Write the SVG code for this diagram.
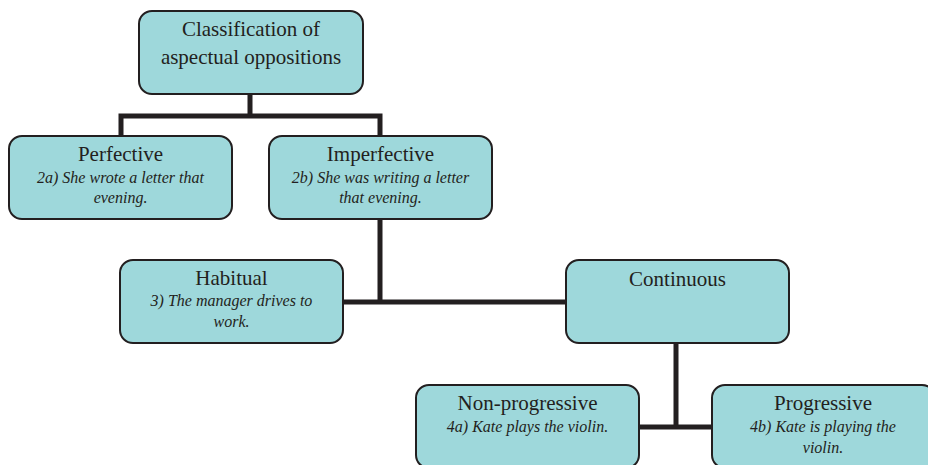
<svg xmlns="http://www.w3.org/2000/svg" width="928" height="465" viewBox="0 0 928 465">
<defs>
<rect id="boxshape" width="223" height="83" rx="13" fill="#9ED8DB" stroke="#231F20" stroke-width="2"/>
</defs>
<rect width="928" height="465" fill="#ffffff"/>
<g id="connectors" fill="none" stroke="#231F20" stroke-width="5">
<path d="M250 94 V116 M121 136 V116 H380 V136"/>
<path d="M380 219 V302 M343 302 H566"/>
<path d="M676 343 V427 M638 427 H712"/>
</g>
<g id="root">
<rect x="139" y="11" width="224" height="83" rx="13" fill="#9ED8DB" stroke="#231F20" stroke-width="2"/>
<text x="251" y="36" font-family="Liberation Serif" font-size="21" fill="#231F20" text-anchor="middle">Classification of</text>
<text x="251" y="64" font-family="Liberation Serif" font-size="21" fill="#231F20" text-anchor="middle">aspectual oppositions</text>
</g>
<g id="perfective">
<use href="#boxshape" x="9" y="136"/>
<text x="120.5" y="161" font-family="Liberation Serif" font-size="21" fill="#231F20" text-anchor="middle">Perfective</text>
<text x="120.5" y="183" font-family="Liberation Serif" font-size="16" font-style="italic" fill="#231F20" text-anchor="middle">2a) She wrote a letter that</text>
<text x="120.5" y="203" font-family="Liberation Serif" font-size="16" font-style="italic" fill="#231F20" text-anchor="middle">evening.</text>
</g>
<g id="imperfective">
<use href="#boxshape" x="269" y="136"/>
<text x="380.5" y="161" font-family="Liberation Serif" font-size="21" fill="#231F20" text-anchor="middle">Imperfective</text>
<text x="380.5" y="183" font-family="Liberation Serif" font-size="16" font-style="italic" fill="#231F20" text-anchor="middle">2b) She was writing a letter</text>
<text x="380.5" y="203" font-family="Liberation Serif" font-size="16" font-style="italic" fill="#231F20" text-anchor="middle">that evening.</text>
</g>
<g id="habitual">
<use href="#boxshape" x="120" y="260"/>
<text x="231.5" y="285" font-family="Liberation Serif" font-size="21" fill="#231F20" text-anchor="middle">Habitual</text>
<text x="231.5" y="306" font-family="Liberation Serif" font-size="16" font-style="italic" fill="#231F20" text-anchor="middle">3) The manager drives to</text>
<text x="231.5" y="327" font-family="Liberation Serif" font-size="16" font-style="italic" fill="#231F20" text-anchor="middle">work.</text>
</g>
<g id="continuous">
<use href="#boxshape" x="566" y="260"/>
<text x="677.5" y="286" font-family="Liberation Serif" font-size="21" fill="#231F20" text-anchor="middle">Continuous</text>
</g>
<g id="nonprogressive">
<use href="#boxshape" x="416" y="385"/>
<text x="527.5" y="410" font-family="Liberation Serif" font-size="21" fill="#231F20" text-anchor="middle">Non-progressive</text>
<text x="527.5" y="432" font-family="Liberation Serif" font-size="16" font-style="italic" fill="#231F20" text-anchor="middle">4a) Kate plays the violin.</text>
</g>
<g id="progressive">
<use href="#boxshape" x="712" y="385"/>
<text x="823" y="410" font-family="Liberation Serif" font-size="21" fill="#231F20" text-anchor="middle">Progressive</text>
<text x="823" y="432" font-family="Liberation Serif" font-size="16" font-style="italic" fill="#231F20" text-anchor="middle">4b) Kate is playing the</text>
<text x="823" y="453" font-family="Liberation Serif" font-size="16" font-style="italic" fill="#231F20" text-anchor="middle">violin.</text>
</g>
</svg>
